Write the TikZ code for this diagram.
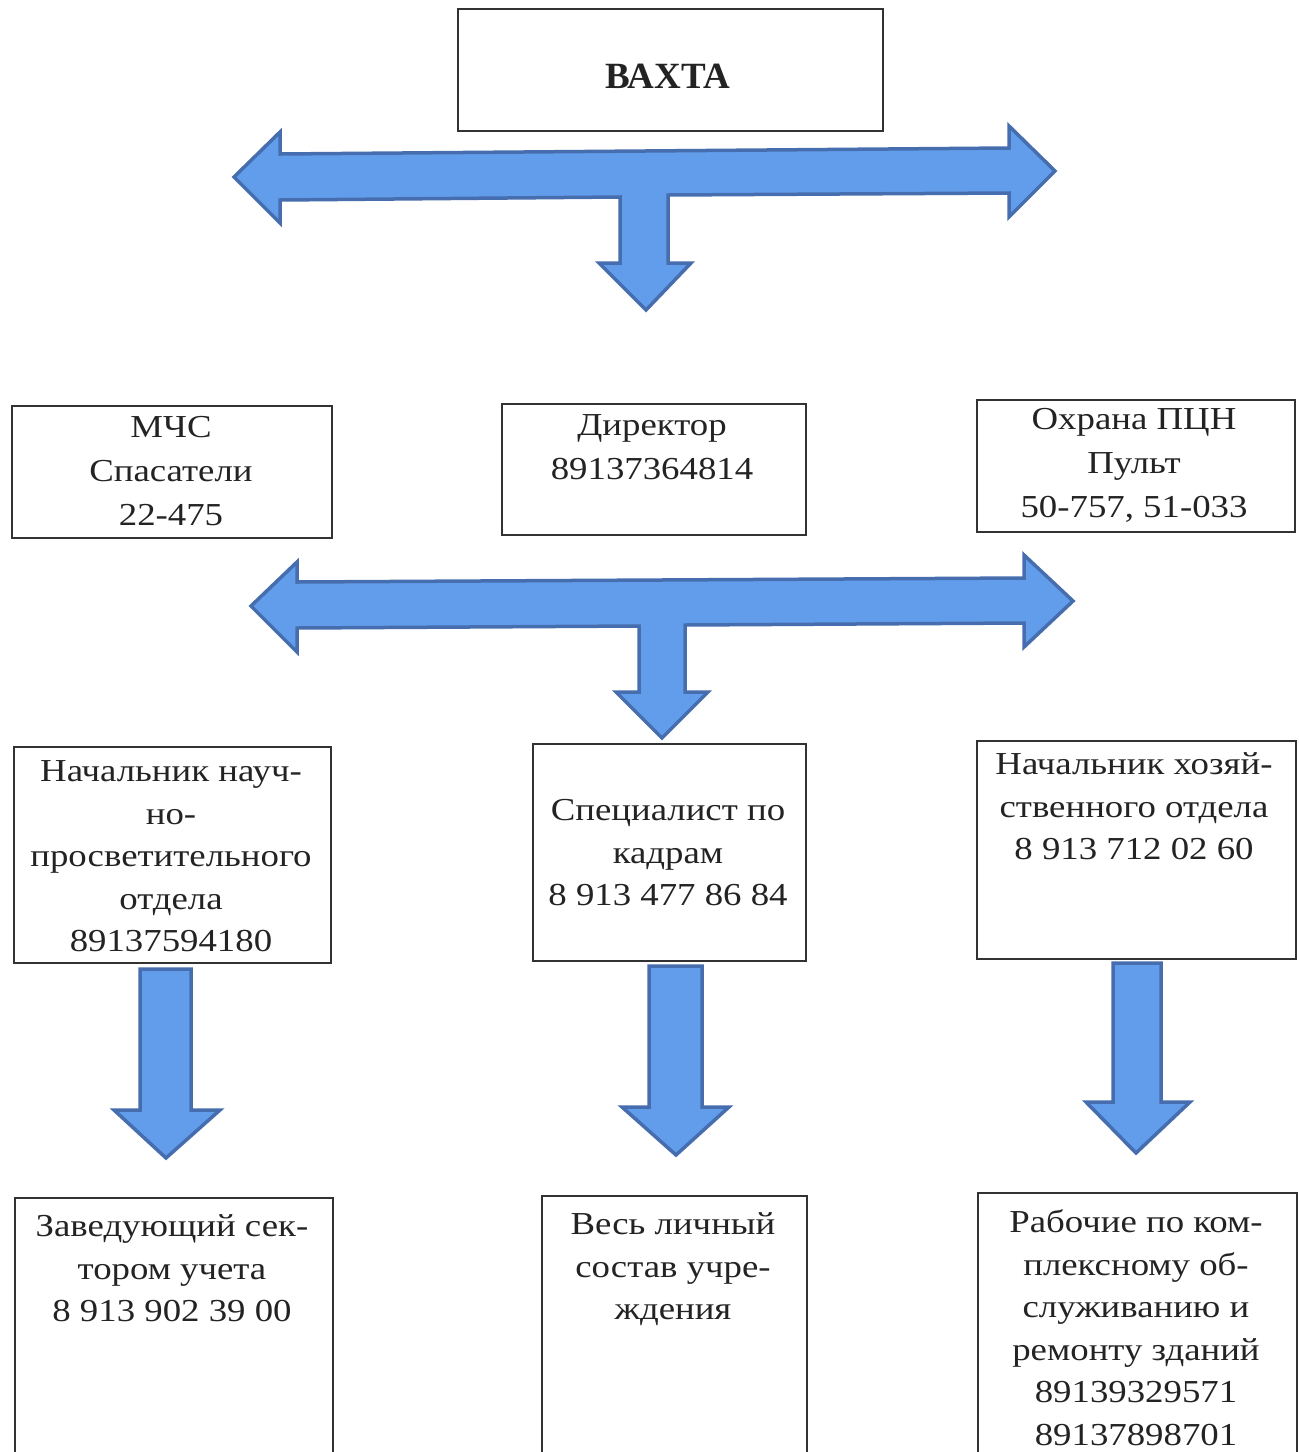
\documentclass[tikz,border=0pt]{standalone}
\usepackage{fontspec}
\setmainfont{Liberation Serif}[FakeStretch=1.15]
\newfontfamily\plainserif{Liberation Serif}
\definecolor{arrowfill}{RGB}{98,157,235}
\definecolor{arrowline}{RGB}{70,110,175}
\definecolor{boxline}{RGB}{50,50,50}
\definecolor{txt}{RGB}{35,35,35}
\begin{document}
\begin{tikzpicture}[x=1pt,y=-1pt,
  box/.style={draw=boxline, line width=1.8pt, inner sep=0pt, anchor=north west},
  lbl/.style={anchor=north, inner sep=0pt, align=center, text=txt, font=\fontsize{32}{42.5}\selectfont},
  lbltwo/.style={lbl, font=\fontsize{32}{44}\selectfont},
  blockarrow/.style={fill=arrowfill, draw=arrowline, line width=3.5pt, line join=miter}]
\useasboundingbox (0,0) rectangle (1299,1452);
\clip (0,0) rectangle (1299,1452);
\fill[white] (0,0) rectangle (1299,1452);

% top box
\node[box, minimum width=425pt, minimum height=122pt] (vaxta) at (457,8) {};
\node[anchor=base, inner sep=0pt, text=txt, font={\plainserif\bfseries\fontsize{37}{40}\selectfont}] (vaxtalbl) at (668,88) {ВАХТА};

% arrow 1
\draw[blockarrow] (234,177) -- (280,132) -- (280,154) -- (1009,148) -- (1009,126) -- (1055,171)
  -- (1009,217) -- (1009,193) -- (668,195) -- (668,263) -- (691,263) -- (646,310) -- (599,263)
  -- (620,263) -- (620,197) -- (280,200) -- (280,223) -- cycle;

% row 2
\node[box, minimum width=320pt, minimum height=132pt] (mchs) at (11,405) {};
\node[lbltwo] (mchslbl) at (171,406) {\strut МЧС\\Спасатели\\22-475};
\node[box, minimum width=304pt, minimum height=131pt] (dir) at (501,403) {};
\node[lbltwo] (dirlbl) at (652,404) {\strut Директор\\89137364814};
\node[box, minimum width=318pt, minimum height=132pt] (ohr) at (976,399) {};
\node[lbltwo] (ohrlbl) at (1134,398) {\strut Охрана ПЦН\\Пульт\\50-757, 51-033};

% arrow 2
\draw[blockarrow] (251,606) -- (297,562) -- (297,582) -- (1024,578) -- (1024,555) -- (1073,601)
  -- (1024,647) -- (1024,623) -- (685,625) -- (685,692) -- (708,692) -- (662,738) -- (616,692)
  -- (639,692) -- (639,626) -- (297,628) -- (297,652) -- cycle;

% row 3
\node[box, minimum width=317pt, minimum height=216pt] (nauch) at (13,746) {};
\node[lbl] (nauchlbl) at (171,752) {\strut Начальник науч-\\но-\\просветительного\\отдела\\89137594180};
\node[box, minimum width=273pt, minimum height=217pt] (spec) at (532,743) {};
\node[lbl] (speclbl) at (668,791) {\strut Специалист по\\кадрам\\8 913 477 86 84};
\node[box, minimum width=319pt, minimum height=218pt] (hoz) at (976,740) {};
\node[lbl] (hozlbl) at (1134,745) {\strut Начальник хозяй-\\ственного отдела\\8 913 712 02 60};

% down arrows
\draw[blockarrow] (140,969) -- (191,969) -- (191,1110) -- (220,1110) -- (166,1158) -- (114,1110) -- (140,1110) -- cycle;
\draw[blockarrow] (649,966) -- (702,966) -- (702,1107) -- (729,1107) -- (676,1155) -- (622,1107) -- (649,1107) -- cycle;
\draw[blockarrow] (1113,963) -- (1161,963) -- (1161,1102) -- (1190,1102) -- (1136,1153) -- (1086,1102) -- (1113,1102) -- cycle;

% row 4
\node[box, minimum width=318pt, minimum height=290pt] (zav) at (14,1197) {};
\node[lbl] (zavlbl) at (172,1207) {\strut Заведующий сек-\\тором учета\\8 913 902 39 00};
\node[box, minimum width=265pt, minimum height=290pt] (ves) at (541,1195) {};
\node[lbl] (veslbl) at (673,1205) {\strut Весь личный\\состав учре-\\ждения};
\node[box, minimum width=319pt, minimum height=290pt] (rab) at (977,1192) {};
\node[lbl] (rablbl) at (1136,1203) {\strut Рабочие по ком-\\плексному об-\\служиванию и\\ремонту зданий\\89139329571\\89137898701};
\end{tikzpicture}
\end{document}
